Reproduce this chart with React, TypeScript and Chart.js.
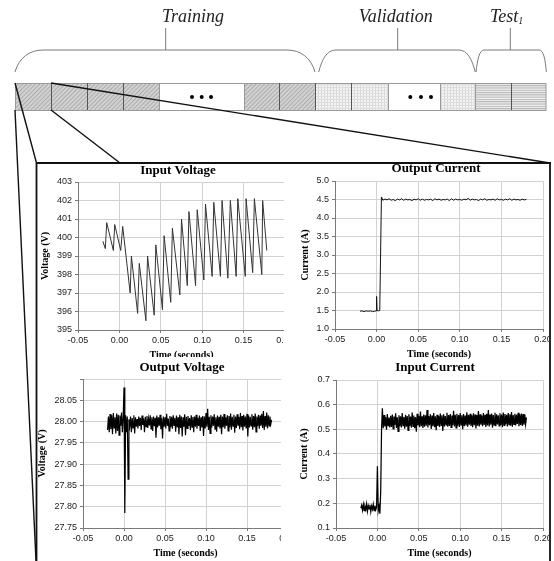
import React, { useEffect, useRef } from 'react';
import { Chart, registerables } from 'chart.js';

Chart.register(...registerables);

// ---------------- DATA ----------------
const timeTicks = [-0.05, 0, 0.05, 0.1, 0.15, 0.2];

// Input Voltage (sawtooth), time in s, voltage in V
const inputVoltageTime = [
  -0.02, -0.017, -0.0153, -0.0073, -0.0056, 0.0016, 0.004, 0.013, 0.0145, 0.022,
  0.024, 0.032, 0.034, 0.042, 0.044, 0.052, 0.054, 0.062, 0.064, 0.073,
  0.075, 0.082, 0.084, 0.092, 0.094, 0.102, 0.104, 0.112, 0.114, 0.122,
  0.124, 0.131, 0.134, 0.141, 0.143, 0.152, 0.153, 0.161, 0.163, 0.172,
  0.173, 0.178,
];
const inputVoltageValue = [
  399.8, 399.4, 400.8, 399.3, 400.7, 399.3, 400.6, 397.0, 399.0, 395.9,
  398.6, 395.5, 399.0, 395.8, 399.6, 396.1, 400.1, 396.5, 400.5, 396.9,
  401.0, 397.4, 401.4, 397.4, 401.5, 397.7, 401.8, 397.9, 401.9, 397.9,
  402.0, 397.8, 402.0, 397.9, 402.1, 397.9, 402.1, 398.1, 402.1, 398.0,
  402.0, 399.3,
];
const inputVoltageTicks = [395, 396, 397, 398, 399, 400, 401, 402, 403];

// Output Current: step part (explicit times) + ripple part (sampled)
const outputCurrentStepTime = [
  -0.02, -0.0175, -0.015, -0.0125, -0.01, -0.0075, -0.005, -0.0025, -0.0005, 0.0,
  0.0005, 0.002, 0.0038, 0.0058,
];
const outputCurrentStepValue = [
  1.48, 1.49, 1.47, 1.49, 1.48, 1.49, 1.47, 1.48, 1.49, 1.88,
  1.5, 1.49, 1.5, 4.57,
];
const outputCurrentRippleStart = 0.0075;
const outputCurrentRippleStep = 0.0025;
const outputCurrentRippleValue = [
  4.48, 4.51, 4.49, 4.52, 4.48, 4.50, 4.47, 4.51, 4.49, 4.52,
  4.48, 4.51, 4.49, 4.50, 4.47, 4.51, 4.49, 4.52, 4.48, 4.51,
  4.48, 4.50, 4.49, 4.51, 4.47, 4.52, 4.49, 4.51, 4.48, 4.50,
  4.49, 4.51, 4.47, 4.52, 4.48, 4.51, 4.49, 4.50, 4.48, 4.51,
  4.49, 4.53, 4.48, 4.51, 4.49, 4.50, 4.47, 4.51, 4.49, 4.52,
  4.48, 4.50, 4.49, 4.51, 4.48, 4.52, 4.49, 4.50, 4.48, 4.51,
  4.49, 4.52, 4.48, 4.51, 4.49, 4.50, 4.48, 4.51, 4.49, 4.50,
];
const outputCurrentTicks = [1.0, 1.5, 2.0, 2.5, 3.0, 3.5, 4.0, 4.5, 5.0];

// Output Voltage (sampled every 1 ms from -0.020 s)
const outputVoltageStart = -0.02;
const outputVoltageStep = 0.001;
const outputVoltageValue = [
  27.980, 28.012, 27.975, 28.018, 27.982, 28.015, 27.970, 28.020, 27.985, 28.010,
  27.972, 28.019, 27.978, 28.016, 27.968, 28.014, 27.990, 28.021, 27.975, 28.010,
  28.080, 27.785, 28.015, 27.975, 28.012, 27.865, 28.005,
  27.990, 28.012, 27.975, 28.008, 27.985, 28.015, 27.972, 28.010, 27.988, 28.006,
  27.984, 28.012, 27.990, 28.009, 27.980, 28.014, 27.992, 28.008, 27.975, 28.011,
  27.988, 28.013, 27.985, 28.007, 27.991, 28.015, 27.983, 28.010, 27.978, 28.012,
  27.989, 28.009, 27.962, 28.014, 27.986, 28.010, 27.990, 28.016, 27.982, 28.008,
  27.960, 28.012, 27.988, 28.010, 27.984, 28.018, 27.990, 28.007, 27.978, 28.013,
  27.987, 28.011, 27.983, 28.015, 27.991, 28.009, 27.976, 28.014, 27.986, 28.010,
  27.970, 28.016, 27.985, 28.012, 27.965, 28.010, 27.988, 28.017, 27.968, 28.011,
  27.984, 28.013, 27.990, 28.008, 27.980, 28.015, 27.987, 28.011, 27.975, 28.012,
  27.988, 28.016, 27.983, 28.009, 27.990, 28.014, 27.978, 28.010, 27.986, 28.013,
  27.966, 28.012, 27.984, 28.020, 27.988, 28.030, 27.980, 28.011, 27.972, 28.015,
  27.986, 28.012, 27.990, 28.017, 27.982, 28.010, 27.976, 28.014, 27.988, 28.011,
  27.984, 28.016, 27.970, 28.012, 27.987, 28.018, 27.983, 28.010, 27.990, 28.015,
  27.978, 28.013, 27.986, 28.019, 27.981, 28.011, 27.989, 28.016, 27.974, 28.012,
  27.985, 28.017, 27.990, 28.011, 27.982, 28.020, 27.987, 28.013, 27.979, 28.016,
  27.988, 28.012, 27.984, 28.018, 27.965, 28.014, 27.986, 28.011, 27.990, 28.017,
  27.981, 28.013, 27.987, 28.019, 27.976, 28.012, 27.989, 28.016, 27.983, 28.014,
  27.990, 28.018, 27.985, 28.025, 27.980, 28.013, 27.988, 28.021, 27.984, 28.015,
  27.990, 28.012, 27.994, 28.004,
];
const outputVoltageTicks = [27.75, 27.8, 27.85, 27.9, 27.95, 28.0, 28.05, 28.1];

// Input Current (sampled every 1 ms from -0.020 s)
const inputCurrentStart = -0.02;
const inputCurrentStep = 0.001;
const inputCurrentValue = [
  0.180, 0.192, 0.172, 0.195, 0.170, 0.188, 0.175, 0.198, 0.168, 0.190,
  0.178, 0.194, 0.166, 0.189, 0.176, 0.196, 0.170, 0.191, 0.174, 0.185,
  0.350, 0.170, 0.188, 0.158, 0.250, 0.500, 0.585,
  0.505, 0.558, 0.512, 0.550, 0.498, 0.562, 0.515, 0.548, 0.508, 0.555,
  0.510, 0.560, 0.502, 0.552, 0.518, 0.565, 0.506, 0.549, 0.492, 0.557,
  0.512, 0.553, 0.508, 0.566, 0.515, 0.550, 0.503, 0.559, 0.511, 0.554,
  0.496, 0.561, 0.514, 0.552, 0.507, 0.568, 0.512, 0.556, 0.505, 0.550,
  0.490, 0.563, 0.516, 0.555, 0.509, 0.572, 0.513, 0.553, 0.506, 0.560,
  0.511, 0.557, 0.515, 0.578, 0.508, 0.554, 0.517, 0.561, 0.502, 0.556,
  0.513, 0.566, 0.509, 0.553, 0.496, 0.559, 0.514, 0.555, 0.510, 0.564,
  0.516, 0.557, 0.493, 0.561, 0.512, 0.554, 0.518, 0.567, 0.511, 0.558,
  0.514, 0.562, 0.508, 0.556, 0.517, 0.575, 0.512, 0.559, 0.506, 0.563,
  0.515, 0.558, 0.510, 0.566, 0.518, 0.557, 0.500, 0.562, 0.513, 0.556,
  0.516, 0.569, 0.511, 0.559, 0.519, 0.563, 0.514, 0.557, 0.509, 0.565,
  0.517, 0.560, 0.504, 0.558, 0.515, 0.574, 0.512, 0.561, 0.519, 0.556,
  0.513, 0.566, 0.518, 0.559, 0.510, 0.563, 0.516, 0.578, 0.512, 0.560,
  0.519, 0.564, 0.507, 0.558, 0.517, 0.567, 0.513, 0.561, 0.520, 0.557,
  0.514, 0.565, 0.518, 0.560, 0.509, 0.568, 0.516, 0.562, 0.521, 0.559,
  0.512, 0.566, 0.519, 0.561, 0.515, 0.570, 0.511, 0.558, 0.520, 0.563,
  0.516, 0.560, 0.522, 0.567, 0.513, 0.561, 0.518, 0.564, 0.514, 0.562,
  0.519, 0.560, 0.521, 0.548,
];
const inputCurrentTicks = [0.1, 0.2, 0.3, 0.4, 0.5, 0.6, 0.7];

// ---------------- helpers ----------------
type Pt = { x: number; y: number };
const pairs = (t: number[], v: number[]): Pt[] => v.map((y, i) => ({ x: t[i], y }));
const sampled = (start: number, step: number, v: number[]): Pt[] =>
  v.map((y, i) => ({ x: Number((start + i * step).toFixed(5)), y }));

const inputVoltagePoints = pairs(inputVoltageTime, inputVoltageValue);
const outputCurrentPoints = [
  ...pairs(outputCurrentStepTime, outputCurrentStepValue),
  ...sampled(outputCurrentRippleStart, outputCurrentRippleStep, outputCurrentRippleValue),
];
const outputVoltagePoints = sampled(outputVoltageStart, outputVoltageStep, outputVoltageValue);
const inputCurrentPoints = sampled(inputCurrentStart, inputCurrentStep, inputCurrentValue);

// ---------------- layout specs ----------------
type Spec = {
  id: string;
  left: number; top: number; width: number; height: number;
  plotL: number; plotT: number; plotR: number; plotB: number;
  title: string; titleX: number; titleY: number;
  yTitle: string; yTitleX: number; xTitleY: number;
  yTicks: number[]; yDecimals: number; hideTopTick: boolean;
  points: Pt[]; color: string; lineWidth: number;
};

const SPECS: Spec[] = [
  {
    id: 'iv', left: 30, top: 162, width: 267, height: 200,
    plotL: 78, plotT: 182, plotR: 285, plotB: 330,
    title: 'Input Voltage', titleX: 178, titleY: 171,
    yTitle: 'Voltage (V)', yTitleX: 45, xTitleY: 355,
    yTicks: inputVoltageTicks, yDecimals: 0, hideTopTick: false,
    points: inputVoltagePoints, color: '#333', lineWidth: 1,
  },
  {
    id: 'oc', left: 284, top: 162, width: 265, height: 198,
    plotL: 335, plotT: 181, plotR: 543, plotB: 329,
    title: 'Output Current', titleX: 436, titleY: 169,
    yTitle: 'Current (A)', yTitleX: 305, xTitleY: 354,
    yTicks: outputCurrentTicks, yDecimals: 1, hideTopTick: false,
    points: outputCurrentPoints, color: '#111', lineWidth: 1,
  },
  {
    id: 'ov', left: 30, top: 357, width: 270, height: 204,
    plotL: 83, plotT: 379, plotR: 288, plotB: 528,
    title: 'Output Voltage', titleX: 182, titleY: 368,
    yTitle: 'Voltage (V)', yTitleX: 42, xTitleY: 553,
    yTicks: outputVoltageTicks, yDecimals: 2, hideTopTick: true,
    points: outputVoltagePoints, color: '#000', lineWidth: 1.2,
  },
  {
    id: 'ic', left: 281, top: 360, width: 268, height: 201,
    plotL: 336, plotT: 380, plotR: 543, plotB: 528,
    title: 'Input Current', titleX: 435, titleY: 368,
    yTitle: 'Current (A)', yTitleX: 304, xTitleY: 553,
    yTicks: inputCurrentTicks, yDecimals: 1, hideTopTick: false,
    points: inputCurrentPoints, color: '#000', lineWidth: 1.25,
  },
];

const TICK_FONT = { family: '"Liberation Sans", Arial, sans-serif', size: 9 };
const AXIS_TITLE_FONT = { family: '"Liberation Serif", "Times New Roman", serif', size: 10, weight: 'bold' as const };
const GRID_COLOR = '#d2d2d2';
const AXIS_COLOR = '#7a7a7a';

function ChartPanel({ spec }: { spec: Spec }) {
  const ref = useRef<HTMLCanvasElement>(null);
  useEffect(() => {
    const s = spec;
    const titlePlugin = {
      id: 'panelTitle',
      afterDraw(chart: any) {
        const ctx = chart.ctx;
        ctx.save();
        ctx.font = 'bold 13px "Liberation Serif", "Times New Roman", serif';
        ctx.fillStyle = '#000';
        ctx.textAlign = 'center';
        ctx.textBaseline = 'middle';
        ctx.fillText(s.title, s.titleX - s.left, s.titleY - s.top);
        ctx.restore();
      },
    };
    const topTick = s.yTicks[s.yTicks.length - 1];
    const chart = new Chart(ref.current as HTMLCanvasElement, {
      type: 'line',
      data: {
        datasets: [
          {
            data: s.points as any,
            borderColor: s.color,
            borderWidth: s.lineWidth,
            pointRadius: 0,
            tension: 0,
            fill: false,
          },
        ],
      },
      options: {
        animation: false,
        responsive: false,
        maintainAspectRatio: false,
        parsing: false,
        normalized: true,
        events: [],
        layout: {
          autoPadding: false,
          padding: { left: 0, top: s.plotT - s.top, right: s.left + s.width - s.plotR, bottom: 0 },
        },
        plugins: { legend: { display: false }, title: { display: false }, tooltip: { enabled: false } },
        scales: {
          x: {
            type: 'linear',
            min: timeTicks[0],
            max: timeTicks[timeTicks.length - 1],
            afterBuildTicks: (sc: any) => {
              sc.ticks = timeTicks.map((v) => ({ value: v }));
            },
            afterFit: (sc: any) => {
              sc.height = s.top + s.height - s.plotB;
              sc.paddingLeft = 0;
              sc.paddingRight = 0;
            },
            ticks: {
              callback: (v: any) => Number(v).toFixed(2),
              font: TICK_FONT,
              color: '#222',
              padding: 2,
              maxRotation: 0,
              autoSkip: false,
            },
            grid: { color: GRID_COLOR, tickColor: AXIS_COLOR, tickLength: 3 },
            border: { color: AXIS_COLOR },
            title: {
              display: true,
              text: 'Time (seconds)',
              font: AXIS_TITLE_FONT,
              color: '#000',
              padding: { top: 0, bottom: s.top + s.height - s.xTitleY - 6 },
            },
          },
          y: {
            type: 'linear',
            min: s.yTicks[0],
            max: topTick,
            afterBuildTicks: (sc: any) => {
              sc.ticks = s.yTicks.map((v) => ({ value: v }));
            },
            afterFit: (sc: any) => {
              sc.width = s.plotL - s.left;
              sc.paddingTop = 0;
              sc.paddingBottom = 0;
            },
            ticks: {
              callback: (v: any) =>
                s.hideTopTick && Math.abs(Number(v) - topTick) < 1e-9 ? '' : Number(v).toFixed(s.yDecimals),
              font: TICK_FONT,
              color: '#222',
              padding: 3,
              autoSkip: false,
            },
            grid: { color: GRID_COLOR, tickColor: AXIS_COLOR, tickLength: 3 },
            border: { color: AXIS_COLOR },
            title: {
              display: true,
              text: s.yTitle,
              font: AXIS_TITLE_FONT,
              color: '#000',
              padding: { top: s.yTitleX - s.left - 6, bottom: 0 },
            },
          },
        },
      } as any,
      plugins: [titlePlugin],
    });
    return () => chart.destroy();
  }, [spec]);
  return (
    <canvas
      ref={ref}
      width={spec.width}
      height={spec.height}
      style={{
        position: 'absolute',
        left: spec.left,
        top: spec.top,
        width: spec.width,
        height: spec.height,
        background: '#fff',
      }}
    />
  );
}

// ---------------- top diagram ----------------
const trainingCells = [[15, 51], [51, 87], [87, 123], [123, 159], [244, 279], [279, 315]];
const validationCells = [[315, 351], [351, 388], [440, 475]];
const testCells = [[475, 511], [511, 546]];

function Diagram() {
  const STRIP_T = 83;
  const STRIP_B = 110;
  const h = STRIP_B - STRIP_T;
  const serif = '"Liberation Serif", "Times New Roman", serif';
  return (
    <svg
      width={554}
      height={561}
      style={{ position: 'absolute', left: 0, top: 0, pointerEvents: 'none' }}
    >
      <defs>
        <pattern id="hatch" width="3" height="3" patternUnits="userSpaceOnUse" patternTransform="rotate(45)">
          <rect width="3" height="3" fill="#d2d2d2" />
          <line x1="0.5" y1="0" x2="0.5" y2="3" stroke="#acacac" strokeWidth="1" />
        </pattern>
        <pattern id="dots" width="3" height="3" patternUnits="userSpaceOnUse">
          <rect width="3" height="3" fill="#f3f3f3" />
          <rect width="1" height="3" fill="#d8d8d8" />
          <rect width="3" height="1" fill="#dedede" />
        </pattern>
        <pattern id="hstripe" width="3" height="2.3" patternUnits="userSpaceOnUse">
          <rect width="3" height="2.3" fill="#f0f0f0" />
          <rect width="3" height="1.1" fill="#b8b8b8" />
        </pattern>
      </defs>

      {/* labels */}
      <g fontFamily={serif} fontStyle="italic" fontSize="18" fill="#222">
        <text x={162} y={21.7}>Training</text>
        <text x={358.7} y={21.7}>Validation</text>
        <text x={490} y={21.7}>
          Test<tspan fontSize="10" dy="2">1</tspan>
        </text>
      </g>

      {/* braces */}
      <g fill="none" stroke="#7a7a7a" strokeWidth="1">
        <path d="M15,72 C19,58 29,50 43,50 L287,50 C301,50 311,58 315,72" />
        <path d="M165.7,28 L165.7,50" />
        <path d="M318.7,72 C322,59 327,50 336,50 L459,50 C467,50 472,59 475.3,72" />
        <path d="M397.7,28 L397.7,50" />
        <path d="M476,72 C477.5,59 479.5,50 484,50 L539,50 C543.5,50 545.3,59 546.3,72" />
        <path d="M510.3,28 L510.3,50" />
      </g>

      {/* strip */}
      <rect x={15} y={STRIP_T} width={531} height={h} fill="#fff" />
      {trainingCells.map(([a, b], i) => (
        <rect key={'t' + i} x={a} y={STRIP_T} width={b - a} height={h} fill="url(#hatch)" />
      ))}
      {validationCells.map(([a, b], i) => (
        <rect key={'v' + i} x={a} y={STRIP_T} width={b - a} height={h} fill="url(#dots)" />
      ))}
      {testCells.map(([a, b], i) => (
        <rect key={'s' + i} x={a} y={STRIP_T} width={b - a} height={h} fill="url(#hstripe)" />
      ))}
      <rect x={15.5} y={STRIP_T + 0.5} width={530.5} height={h} fill="none" stroke="#9a9a9a" strokeWidth="1" />
      <g stroke="#555" strokeWidth="1">
        {[51, 87, 123, 279, 315, 351, 511].map((x) => (
          <line key={'d' + x} x1={x + 0.5} y1={STRIP_T} x2={x + 0.5} y2={STRIP_B} />
        ))}
      </g>
      <g stroke="#999" strokeWidth="1">
        {[159, 244, 388, 440, 475].map((x) => (
          <line key={'g' + x} x1={x + 0.5} y1={STRIP_T} x2={x + 0.5} y2={STRIP_B} />
        ))}
      </g>
      <g fill="#000">
        {[192, 201.7, 211, 410.3, 421, 431].map((x) => (
          <circle key={'c' + x} cx={x} cy={97} r={2} />
        ))}
      </g>

      {/* zoom lines and box */}
      <g stroke="#111" strokeWidth="1.4" fill="none">
        <line x1={15} y1={83} x2={36.5} y2={163} />
        <line x1={15} y1={110} x2={36} y2={561} />
        <line x1={51} y1={110} x2={120} y2={163} />
        <line x1={51} y1={83} x2={550} y2={163} />
      </g>
      <g stroke="#111" strokeWidth="1.8" fill="none">
        <line x1={36.5} y1={163} x2={36.5} y2={561} />
        <line x1={36} y1={163} x2={551} y2={163} />
        <line x1={550} y1={163} x2={550} y2={561} />
      </g>
    </svg>
  );
}

export default function App() {
  return (
    <div
      style={{
        position: 'absolute',
        left: 0,
        top: 0,
        width: 554,
        height: 561,
        background: '#fff',
        overflow: 'hidden',
      }}
    >
      {SPECS.map((s) => (
        <ChartPanel key={s.id} spec={s} />
      ))}
      <Diagram />
    </div>
  );
}
